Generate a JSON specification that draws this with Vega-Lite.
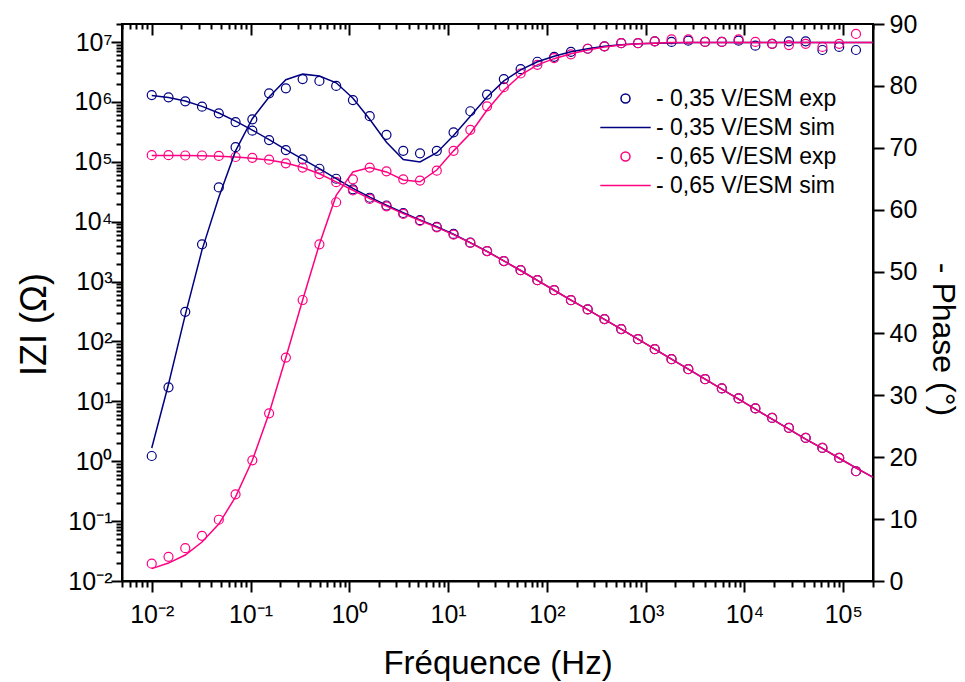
{
"$schema": "https://vega.github.io/schema/vega-lite/v6.json",
"width": 751, "height": 557,
"autosize": "none",
"padding": {"left": 122, "top": 24, "right": 92, "bottom": 101},
"background": "white",
"config": {
  "view": {"stroke": "black", "strokeWidth": 2},
  "font": "Liberation Sans",
  "axis": {"domainColor": "black", "domainWidth": 2, "tickColor": "black", "tickWidth": 2, "labelColor": "black", "titleColor": "black", "grid": false, "labelFont": "Liberation Sans", "titleFont": "Liberation Sans", "titleFontWeight": "normal", "labelFontSize": 25, "titleFontSize": 33, "labelOverlap": false, "labelFlush": false}
},
"datasets": {
"d": [
{"s":"- 0,35 V/ESM exp","k":"exp","f":0.01,"z":1300000,"p":20.2},
{"s":"- 0,35 V/ESM exp","k":"exp","f":0.014779,"z":1194000,"p":31.3},
{"s":"- 0,35 V/ESM exp","k":"exp","f":0.021847,"z":1023000,"p":43.5},
{"s":"- 0,35 V/ESM exp","k":"exp","f":0.032292,"z":831800,"p":54.4},
{"s":"- 0,35 V/ESM exp","k":"exp","f":0.047737,"z":645700,"p":63.6},
{"s":"- 0,35 V/ESM exp","k":"exp","f":0.070564,"z":461300,"p":70.1},
{"s":"- 0,35 V/ESM exp","k":"exp","f":0.10432,"z":330400,"p":74.6},
{"s":"- 0,35 V/ESM exp","k":"exp","f":0.1542,"z":230700,"p":78.8},
{"s":"- 0,35 V/ESM exp","k":"exp","f":0.2279,"z":157000,"p":79.6},
{"s":"- 0,35 V/ESM exp","k":"exp","f":0.3369,"z":109900,"p":81.1},
{"s":"- 0,35 V/ESM exp","k":"exp","f":0.498,"z":76560,"p":80.8},
{"s":"- 0,35 V/ESM exp","k":"exp","f":0.7362,"z":52120,"p":80.0},
{"s":"- 0,35 V/ESM exp","k":"exp","f":1.088,"z":34670,"p":77.7},
{"s":"- 0,35 V/ESM exp","k":"exp","f":1.609,"z":25120,"p":75.1},
{"s":"- 0,35 V/ESM exp","k":"exp","f":2.378,"z":18620,"p":72.1},
{"s":"- 0,35 V/ESM exp","k":"exp","f":3.516,"z":13960,"p":69.5},
{"s":"- 0,35 V/ESM exp","k":"exp","f":5.196,"z":10590,"p":69.1},
{"s":"- 0,35 V/ESM exp","k":"exp","f":7.68,"z":8222,"p":69.5},
{"s":"- 0,35 V/ESM exp","k":"exp","f":11.355,"z":6237,"p":72.5},
{"s":"- 0,35 V/ESM exp","k":"exp","f":16.784,"z":4467,"p":75.9},
{"s":"- 0,35 V/ESM exp","k":"exp","f":24.806,"z":3228,"p":78.6},
{"s":"- 0,35 V/ESM exp","k":"exp","f":36.665,"z":2198,"p":81.1},
{"s":"- 0,35 V/ESM exp","k":"exp","f":54.2,"z":1552,"p":82.7},
{"s":"- 0,35 V/ESM exp","k":"exp","f":80.12,"z":1057,"p":83.9},
{"s":"- 0,35 V/ESM exp","k":"exp","f":118.42,"z":719.5,"p":84.7},
{"s":"- 0,35 V/ESM exp","k":"exp","f":175.06,"z":489.8,"p":85.5},
{"s":"- 0,35 V/ESM exp","k":"exp","f":258.8,"z":342.8,"p":86.0},
{"s":"- 0,35 V/ESM exp","k":"exp","f":382.5,"z":236.0,"p":86.4},
{"s":"- 0,35 V/ESM exp","k":"exp","f":565.5,"z":160.7,"p":86.9},
{"s":"- 0,35 V/ESM exp","k":"exp","f":835.9,"z":109.1,"p":86.9},
{"s":"- 0,35 V/ESM exp","k":"exp","f":1235.6,"z":74.3,"p":87.2},
{"s":"- 0,35 V/ESM exp","k":"exp","f":1826.5,"z":50.58,"p":87.1},
{"s":"- 0,35 V/ESM exp","k":"exp","f":2700,"z":34.43,"p":87.3},
{"s":"- 0,35 V/ESM exp","k":"exp","f":3991,"z":23.44,"p":87.1},
{"s":"- 0,35 V/ESM exp","k":"exp","f":5900,"z":16.41,"p":87.1},
{"s":"- 0,35 V/ESM exp","k":"exp","f":8721,"z":11.17,"p":87.3},
{"s":"- 0,35 V/ESM exp","k":"exp","f":12890,"z":7.603,"p":86.5},
{"s":"- 0,35 V/ESM exp","k":"exp","f":19055,"z":5.284,"p":86.8},
{"s":"- 0,35 V/ESM exp","k":"exp","f":28165,"z":3.597,"p":87.2},
{"s":"- 0,35 V/ESM exp","k":"exp","f":41633,"z":2.449,"p":87.2},
{"s":"- 0,35 V/ESM exp","k":"exp","f":61540,"z":1.667,"p":85.8},
{"s":"- 0,35 V/ESM exp","k":"exp","f":90970,"z":1.135,"p":86.3},
{"s":"- 0,35 V/ESM exp","k":"exp","f":134480,"z":0.6808,"p":85.8},
{"s":"- 0,35 V/ESM sim","k":"sim","f":0.01,"z":1274000,"p":21.5},
{"s":"- 0,35 V/ESM sim","k":"sim","f":0.014779,"z":1189000,"p":31.8},
{"s":"- 0,35 V/ESM sim","k":"sim","f":0.021847,"z":1035000,"p":43.0},
{"s":"- 0,35 V/ESM sim","k":"sim","f":0.032292,"z":841400,"p":53.5},
{"s":"- 0,35 V/ESM sim","k":"sim","f":0.047737,"z":653100,"p":62.0},
{"s":"- 0,35 V/ESM sim","k":"sim","f":0.070564,"z":478600,"p":69.5},
{"s":"- 0,35 V/ESM sim","k":"sim","f":0.10432,"z":338800,"p":74.7},
{"s":"- 0,35 V/ESM sim","k":"sim","f":0.1542,"z":234400,"p":78.2},
{"s":"- 0,35 V/ESM sim","k":"sim","f":0.2279,"z":160300,"p":81.0},
{"s":"- 0,35 V/ESM sim","k":"sim","f":0.3369,"z":110900,"p":81.9},
{"s":"- 0,35 V/ESM sim","k":"sim","f":0.498,"z":76740,"p":81.6},
{"s":"- 0,35 V/ESM sim","k":"sim","f":0.7362,"z":52480,"p":80.5},
{"s":"- 0,35 V/ESM sim","k":"sim","f":1.088,"z":35890,"p":78.0},
{"s":"- 0,35 V/ESM sim","k":"sim","f":1.609,"z":25700,"p":74.6},
{"s":"- 0,35 V/ESM sim","k":"sim","f":2.378,"z":18840,"p":70.9},
{"s":"- 0,35 V/ESM sim","k":"sim","f":3.516,"z":14130,"p":68.1},
{"s":"- 0,35 V/ESM sim","k":"sim","f":5.196,"z":10720,"p":67.7},
{"s":"- 0,35 V/ESM sim","k":"sim","f":7.68,"z":8222,"p":69.2},
{"s":"- 0,35 V/ESM sim","k":"sim","f":11.355,"z":6166,"p":72.0},
{"s":"- 0,35 V/ESM sim","k":"sim","f":16.784,"z":4467,"p":75.1},
{"s":"- 0,35 V/ESM sim","k":"sim","f":24.806,"z":3199,"p":78.2},
{"s":"- 0,35 V/ESM sim","k":"sim","f":36.665,"z":2213,"p":80.8},
{"s":"- 0,35 V/ESM sim","k":"sim","f":54.2,"z":1531,"p":82.6},
{"s":"- 0,35 V/ESM sim","k":"sim","f":80.12,"z":1047,"p":83.9},
{"s":"- 0,35 V/ESM sim","k":"sim","f":118.42,"z":716.1,"p":84.8},
{"s":"- 0,35 V/ESM sim","k":"sim","f":175.06,"z":489.8,"p":85.5},
{"s":"- 0,35 V/ESM sim","k":"sim","f":258.8,"z":338.8,"p":86.0},
{"s":"- 0,35 V/ESM sim","k":"sim","f":382.5,"z":234.4,"p":86.4},
{"s":"- 0,35 V/ESM sim","k":"sim","f":565.5,"z":160.3,"p":86.65},
{"s":"- 0,35 V/ESM sim","k":"sim","f":835.9,"z":109.6,"p":86.8},
{"s":"- 0,35 V/ESM sim","k":"sim","f":1235.6,"z":74.64,"p":86.9},
{"s":"- 0,35 V/ESM sim","k":"sim","f":1826.5,"z":50.7,"p":86.95},
{"s":"- 0,35 V/ESM sim","k":"sim","f":2700,"z":34.51,"p":87.0},
{"s":"- 0,35 V/ESM sim","k":"sim","f":3991,"z":23.5,"p":87.0},
{"s":"- 0,35 V/ESM sim","k":"sim","f":5900,"z":16.0,"p":87.0},
{"s":"- 0,35 V/ESM sim","k":"sim","f":8721,"z":10.89,"p":87.0},
{"s":"- 0,35 V/ESM sim","k":"sim","f":12890,"z":7.413,"p":87.0},
{"s":"- 0,35 V/ESM sim","k":"sim","f":19055,"z":5.047,"p":87.0},
{"s":"- 0,35 V/ESM sim","k":"sim","f":28165,"z":3.436,"p":87.0},
{"s":"- 0,35 V/ESM sim","k":"sim","f":41633,"z":2.339,"p":87.0},
{"s":"- 0,35 V/ESM sim","k":"sim","f":61540,"z":1.641,"p":87.0},
{"s":"- 0,35 V/ESM sim","k":"sim","f":90970,"z":1.122,"p":87.0},
{"s":"- 0,35 V/ESM sim","k":"sim","f":134480,"z":0.7762,"p":87.0},
{"s":"- 0,35 V/ESM sim","k":"sim","f":198800,"z":0.5433,"p":87.0},
{"s":"- 0,65 V/ESM exp","k":"exp","f":0.01,"z":128800,"p":2.8},
{"s":"- 0,65 V/ESM exp","k":"exp","f":0.014779,"z":128800,"p":3.9},
{"s":"- 0,65 V/ESM exp","k":"exp","f":0.021847,"z":127400,"p":5.3},
{"s":"- 0,65 V/ESM exp","k":"exp","f":0.032292,"z":127400,"p":7.3},
{"s":"- 0,65 V/ESM exp","k":"exp","f":0.047737,"z":125300,"p":9.9},
{"s":"- 0,65 V/ESM exp","k":"exp","f":0.070564,"z":120200,"p":14.0},
{"s":"- 0,65 V/ESM exp","k":"exp","f":0.10432,"z":116400,"p":19.5},
{"s":"- 0,65 V/ESM exp","k":"exp","f":0.1542,"z":108400,"p":27.1},
{"s":"- 0,65 V/ESM exp","k":"exp","f":0.2279,"z":94190,"p":36.1},
{"s":"- 0,65 V/ESM exp","k":"exp","f":0.3369,"z":80170,"p":45.4},
{"s":"- 0,65 V/ESM exp","k":"exp","f":0.498,"z":62370,"p":54.4},
{"s":"- 0,65 V/ESM exp","k":"exp","f":0.7362,"z":45710,"p":61.2},
{"s":"- 0,65 V/ESM exp","k":"exp","f":1.088,"z":33270,"p":64.9},
{"s":"- 0,65 V/ESM exp","k":"exp","f":1.609,"z":23990,"p":66.8},
{"s":"- 0,65 V/ESM exp","k":"exp","f":2.378,"z":18030,"p":66.2},
{"s":"- 0,65 V/ESM exp","k":"exp","f":3.516,"z":13490,"p":64.9},
{"s":"- 0,65 V/ESM exp","k":"exp","f":5.196,"z":10300,"p":64.7},
{"s":"- 0,65 V/ESM exp","k":"exp","f":7.68,"z":8054,"p":66.3},
{"s":"- 0,65 V/ESM exp","k":"exp","f":11.355,"z":6095,"p":69.5},
{"s":"- 0,65 V/ESM exp","k":"exp","f":16.784,"z":4426,"p":72.9},
{"s":"- 0,65 V/ESM exp","k":"exp","f":24.806,"z":3228,"p":76.7},
{"s":"- 0,65 V/ESM exp","k":"exp","f":36.665,"z":2198,"p":79.8},
{"s":"- 0,65 V/ESM exp","k":"exp","f":54.2,"z":1552,"p":82.0},
{"s":"- 0,65 V/ESM exp","k":"exp","f":80.12,"z":1057,"p":83.4},
{"s":"- 0,65 V/ESM exp","k":"exp","f":118.42,"z":719.5,"p":84.5},
{"s":"- 0,65 V/ESM exp","k":"exp","f":175.06,"z":489.8,"p":85.1},
{"s":"- 0,65 V/ESM exp","k":"exp","f":258.8,"z":342.8,"p":86.0},
{"s":"- 0,65 V/ESM exp","k":"exp","f":382.5,"z":236.0,"p":86.4},
{"s":"- 0,65 V/ESM exp","k":"exp","f":565.5,"z":160.7,"p":86.9},
{"s":"- 0,65 V/ESM exp","k":"exp","f":835.9,"z":109.1,"p":86.9},
{"s":"- 0,65 V/ESM exp","k":"exp","f":1235.6,"z":74.3,"p":87.2},
{"s":"- 0,65 V/ESM exp","k":"exp","f":1826.5,"z":50.58,"p":87.5},
{"s":"- 0,65 V/ESM exp","k":"exp","f":2700,"z":34.43,"p":87.5},
{"s":"- 0,65 V/ESM exp","k":"exp","f":3991,"z":23.44,"p":87.1},
{"s":"- 0,65 V/ESM exp","k":"exp","f":5900,"z":16.41,"p":87.1},
{"s":"- 0,65 V/ESM exp","k":"exp","f":8721,"z":11.17,"p":87.5},
{"s":"- 0,65 V/ESM exp","k":"exp","f":12890,"z":7.603,"p":87.1},
{"s":"- 0,65 V/ESM exp","k":"exp","f":19055,"z":5.284,"p":86.8},
{"s":"- 0,65 V/ESM exp","k":"exp","f":28165,"z":3.597,"p":86.6},
{"s":"- 0,65 V/ESM exp","k":"exp","f":41633,"z":2.449,"p":86.8},
{"s":"- 0,65 V/ESM exp","k":"exp","f":61540,"z":1.667,"p":86.3},
{"s":"- 0,65 V/ESM exp","k":"exp","f":90970,"z":1.135,"p":86.8},
{"s":"- 0,65 V/ESM exp","k":"exp","f":134480,"z":0.6808,"p":88.4},
{"s":"- 0,65 V/ESM sim","k":"sim","f":0.01,"z":127400,"p":2.0},
{"s":"- 0,65 V/ESM sim","k":"sim","f":0.014779,"z":127400,"p":2.9},
{"s":"- 0,65 V/ESM sim","k":"sim","f":0.021847,"z":126800,"p":4.2},
{"s":"- 0,65 V/ESM sim","k":"sim","f":0.032292,"z":125900,"p":6.3},
{"s":"- 0,65 V/ESM sim","k":"sim","f":0.047737,"z":123900,"p":9.2},
{"s":"- 0,65 V/ESM sim","k":"sim","f":0.070564,"z":120200,"p":13.6},
{"s":"- 0,65 V/ESM sim","k":"sim","f":0.10432,"z":114800,"p":19.5},
{"s":"- 0,65 V/ESM sim","k":"sim","f":0.1542,"z":107200,"p":27.1},
{"s":"- 0,65 V/ESM sim","k":"sim","f":0.2279,"z":95500,"p":36.1},
{"s":"- 0,65 V/ESM sim","k":"sim","f":0.3369,"z":80350,"p":45.4},
{"s":"- 0,65 V/ESM sim","k":"sim","f":0.498,"z":63100,"p":54.4},
{"s":"- 0,65 V/ESM sim","k":"sim","f":0.7362,"z":46240,"p":62.3},
{"s":"- 0,65 V/ESM sim","k":"sim","f":1.088,"z":33500,"p":66.1},
{"s":"- 0,65 V/ESM sim","k":"sim","f":1.609,"z":24270,"p":66.8},
{"s":"- 0,65 V/ESM sim","k":"sim","f":2.378,"z":18200,"p":66.1},
{"s":"- 0,65 V/ESM sim","k":"sim","f":3.516,"z":13650,"p":64.8},
{"s":"- 0,65 V/ESM sim","k":"sim","f":5.196,"z":10470,"p":64.5},
{"s":"- 0,65 V/ESM sim","k":"sim","f":7.68,"z":8035,"p":66.4},
{"s":"- 0,65 V/ESM sim","k":"sim","f":11.355,"z":6095,"p":69.5},
{"s":"- 0,65 V/ESM sim","k":"sim","f":16.784,"z":4416,"p":72.3},
{"s":"- 0,65 V/ESM sim","k":"sim","f":24.806,"z":3162,"p":76.1},
{"s":"- 0,65 V/ESM sim","k":"sim","f":36.665,"z":2213,"p":79.3},
{"s":"- 0,65 V/ESM sim","k":"sim","f":54.2,"z":1531,"p":81.75},
{"s":"- 0,65 V/ESM sim","k":"sim","f":80.12,"z":1047,"p":83.4},
{"s":"- 0,65 V/ESM sim","k":"sim","f":118.42,"z":716.1,"p":84.4},
{"s":"- 0,65 V/ESM sim","k":"sim","f":175.06,"z":489.8,"p":85.2},
{"s":"- 0,65 V/ESM sim","k":"sim","f":258.8,"z":338.8,"p":85.8},
{"s":"- 0,65 V/ESM sim","k":"sim","f":382.5,"z":234.4,"p":86.3},
{"s":"- 0,65 V/ESM sim","k":"sim","f":565.5,"z":160.3,"p":86.6},
{"s":"- 0,65 V/ESM sim","k":"sim","f":835.9,"z":109.6,"p":86.8},
{"s":"- 0,65 V/ESM sim","k":"sim","f":1235.6,"z":74.64,"p":86.9},
{"s":"- 0,65 V/ESM sim","k":"sim","f":1826.5,"z":50.7,"p":87.0},
{"s":"- 0,65 V/ESM sim","k":"sim","f":2700,"z":34.51,"p":87.0},
{"s":"- 0,65 V/ESM sim","k":"sim","f":3991,"z":23.5,"p":87.0},
{"s":"- 0,65 V/ESM sim","k":"sim","f":5900,"z":16.0,"p":87.0},
{"s":"- 0,65 V/ESM sim","k":"sim","f":8721,"z":10.89,"p":87.0},
{"s":"- 0,65 V/ESM sim","k":"sim","f":12890,"z":7.413,"p":87.0},
{"s":"- 0,65 V/ESM sim","k":"sim","f":19055,"z":5.047,"p":87.0},
{"s":"- 0,65 V/ESM sim","k":"sim","f":28165,"z":3.436,"p":87.0},
{"s":"- 0,65 V/ESM sim","k":"sim","f":41633,"z":2.339,"p":87.0},
{"s":"- 0,65 V/ESM sim","k":"sim","f":61540,"z":1.641,"p":87.0},
{"s":"- 0,65 V/ESM sim","k":"sim","f":90970,"z":1.122,"p":87.0},
{"s":"- 0,65 V/ESM sim","k":"sim","f":134480,"z":0.7762,"p":87.0},
{"s":"- 0,65 V/ESM sim","k":"sim","f":198800,"z":0.5433,"p":87.0}
]
},
"data": {"name": "d"},
"layer": [
  {
    "layer": [
      {
        "transform": [{"filter": "datum.k == 'exp'"}],
        "mark": {"type": "point", "filled": false, "size": 81, "strokeWidth": 1.2, "opacity": 1},
        "encoding": {
          "x": {"field": "f", "type": "quantitative",
                "scale": {"type": "log", "domain": [0.005, 200000], "nice": false},
                "axis": {"orient": "bottom", "title": "Fréquence (Hz)", "titlePadding": 20,
                         "values": [0.005,0.006,0.007,0.008,0.009,0.01,0.02,0.03,0.04,0.05,0.06,0.07,0.08,0.09,0.1,0.2,0.3,0.4,0.5,0.6,0.7,0.8,0.9,1,2,3,4,5,6,7,8,9,10,20,30,40,50,60,70,80,90,100,200,300,400,500,600,700,800,900,1000,2000,3000,4000,5000,6000,7000,8000,9000,10000,20000,30000,40000,50000,60000,70000,80000,90000,100000,200000],
                         "labelExpr": "abs(log(datum.value)/LN10 - round(log(datum.value)/LN10)) < 0.001 ? '10' + (round(log(datum.value)/LN10) < 0 ? '⁻' : '') + ['⁰','¹','²','³','⁴','⁵','⁶','⁷','⁸','⁹'][abs(round(log(datum.value)/LN10))] : ''",
                         "tickSize": {"condition": {"test": "abs(log(datum.value)/LN10 - round(log(datum.value)/LN10)) < 0.001", "value": 11}, "value": 6},
                         "labelPadding": 10}},
          "y": {"field": "z", "type": "quantitative",
                "scale": {"type": "log", "domain": [0.01, 20000000], "nice": false},
                "axis": {"orient": "left", "title": "IZI (Ω)", "titlePadding": 14, "titleFontSize": 36, "titleY": 300,
                         "values": [0.01,0.02,0.03,0.04,0.05,0.06,0.07,0.08,0.09,0.1,0.2,0.3,0.4,0.5,0.6,0.7,0.8,0.9,1,2,3,4,5,6,7,8,9,10,20,30,40,50,60,70,80,90,100,200,300,400,500,600,700,800,900,1000,2000,3000,4000,5000,6000,7000,8000,9000,10000,20000,30000,40000,50000,60000,70000,80000,90000,100000,200000,300000,400000,500000,600000,700000,800000,900000,1000000,2000000,3000000,4000000,5000000,6000000,7000000,8000000,9000000,10000000,20000000],
                         "labelExpr": "abs(log(datum.value)/LN10 - round(log(datum.value)/LN10)) < 0.001 ? '10' + (round(log(datum.value)/LN10) < 0 ? '⁻' : '') + ['⁰','¹','²','³','⁴','⁵','⁶','⁷','⁸','⁹'][abs(round(log(datum.value)/LN10))] : ''",
                         "tickSize": {"condition": {"test": "abs(log(datum.value)/LN10 - round(log(datum.value)/LN10)) < 0.001", "value": 11}, "value": 6},
                         "labelPadding": -1}},
          "color": {"field": "s", "type": "nominal",
                    "scale": {"domain": ["- 0,35 V/ESM exp","- 0,35 V/ESM sim","- 0,65 V/ESM exp","- 0,65 V/ESM sim"], "range": ["#000080","#000080","#ff0080","#ff0080"]},
                    "legend": {"orient": "none", "legendX": 492, "legendY": 63, "title": null, "labelFontSize": 23, "labelFont": "Liberation Sans", "labelColor": "black", "symbolSize": 81, "symbolStrokeWidth": 1.5, "labelOffset": 19, "rowPadding": 5, "padding": 0, "labelLimit": 400}},
          "shape": {"field": "s", "type": "nominal",
                    "scale": {"domain": ["- 0,35 V/ESM exp","- 0,35 V/ESM sim","- 0,65 V/ESM exp","- 0,65 V/ESM sim"], "range": ["circle","M-5.6,0H5.6","circle","M-5.6,0H5.6"]},
                    "legend": {"orient": "none", "legendX": 492, "legendY": 63, "title": null, "labelFontSize": 23, "labelFont": "Liberation Sans", "labelColor": "black", "symbolSize": 81, "symbolStrokeWidth": 1.5, "labelOffset": 19, "rowPadding": 5, "padding": 0, "labelLimit": 400}}
        }
      },
      {
        "transform": [{"filter": "datum.k == 'sim'"}],
        "mark": {"type": "line", "strokeWidth": 1.5},
        "encoding": {
          "x": {"field": "f", "type": "quantitative"},
          "y": {"field": "z", "type": "quantitative"},
          "color": {"field": "s", "type": "nominal"}
        }
      }
    ]
  },
  {
    "layer": [
      {
        "transform": [{"filter": "datum.k == 'exp'"}],
        "mark": {"type": "point", "filled": false, "size": 81, "strokeWidth": 1.2, "opacity": 1},
        "encoding": {
          "x": {"field": "f", "type": "quantitative",
                "scale": {"type": "log", "domain": [0.005, 200000], "nice": false},
                "axis": {"orient": "top", "title": null, "labels": false, "domain": false,
                         "values": [0.005,0.006,0.007,0.008,0.009,0.01,0.02,0.03,0.04,0.05,0.06,0.07,0.08,0.09,0.1,0.2,0.3,0.4,0.5,0.6,0.7,0.8,0.9,1,2,3,4,5,6,7,8,9,10,20,30,40,50,60,70,80,90,100,200,300,400,500,600,700,800,900,1000,2000,3000,4000,5000,6000,7000,8000,9000,10000,20000,30000,40000,50000,60000,70000,80000,90000,100000,200000],
                         "tickSize": {"condition": {"test": "abs(log(datum.value)/LN10 - round(log(datum.value)/LN10)) < 0.001", "value": -11}, "value": -5}}},
          "y": {"field": "p", "type": "quantitative",
                "scale": {"domain": [0, 90], "nice": false},
                "axis": {"orient": "right", "title": "- Phase (°)", "titlePadding": 9, "titleFontSize": 32, "titleY": 315,
                         "values": [0,5,10,15,20,25,30,35,40,45,50,55,60,65,70,75,80,85,90],
                         "labelExpr": "datum.value % 10 == 0 ? datum.label : ''",
                         "tickSize": {"condition": {"test": "datum.value % 10 == 0", "value": 11}, "value": 6},
                         "labelPadding": 5}},
          "color": {"field": "s", "type": "nominal"},
          "shape": {"field": "s", "type": "nominal"}
        }
      },
      {
        "transform": [{"filter": "datum.k == 'sim'"}],
        "mark": {"type": "line", "strokeWidth": 1.5},
        "encoding": {
          "x": {"field": "f", "type": "quantitative"},
          "y": {"field": "p", "type": "quantitative"},
          "color": {"field": "s", "type": "nominal"}
        }
      }
    ]
  }
],
"resolve": {"scale": {"y": "independent"}, "axis": {"y": "independent", "x": "independent"}}
}
